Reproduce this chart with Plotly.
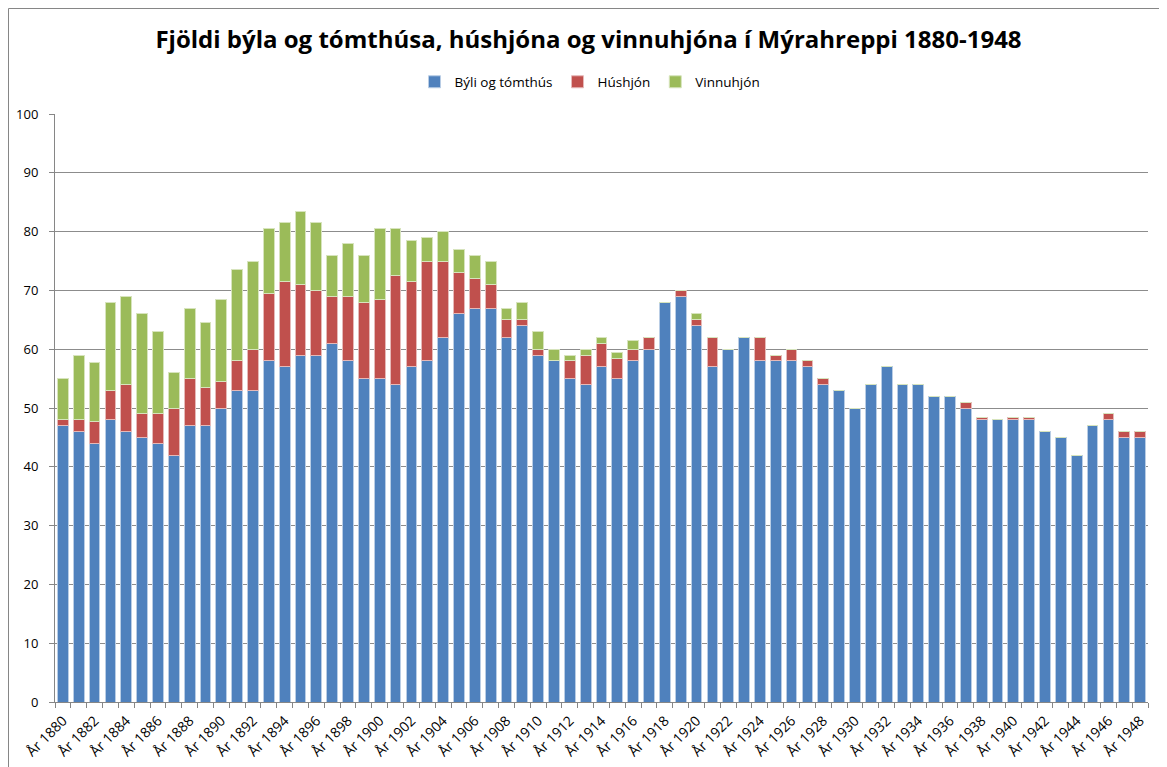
import plotly.graph_objects as go

years = list(range(1880, 1949))

byli = [47, 46, 44, 48, 46, 45, 44, 42, 47, 47,
        50, 53, 53, 58, 57, 59, 59, 61, 58, 55,
        55, 54, 57, 58, 62, 66, 67, 67, 62, 64,
        59, 58, 55, 54, 57, 55, 58, 60, 68, 69,
        64, 57, 60, 62, 58, 58, 58, 57, 54, 53,
        50, 54, 57, 54, 54, 52, 52, 50, 48, 48,
        48, 48, 46, 45, 42, 47, 48, 45, 45]

hushjon = [1, 2, 3.7, 5, 8, 4, 5, 8, 8, 6.5,
           4.5, 5, 7, 11.5, 14.5, 12, 11, 8, 11, 13,
           13.5, 18.5, 14.5, 17, 13, 7, 5, 4, 3, 1,
           1, 0, 3, 5, 4, 3.5, 2, 2, 0, 1,
           1, 5, 0, 0, 4, 1, 2, 1, 1, 0,
           0, 0, 0, 0, 0, 0, 0, 1, 0.4, 0,
           0.4, 0.4, 0, 0, 0, 0, 1, 1, 1]

vinnuhjon = [7, 11, 10, 15, 15, 17, 14, 6, 12, 11,
             14, 15.5, 15, 11, 10, 12.5, 11.5, 7, 9, 8,
             12, 8, 7, 4, 5, 4, 4, 4, 2, 3,
             3, 2, 1, 1, 1, 1, 1.5, 0, 0, 0,
             1, 0, 0, 0, 0, 0, 0, 0, 0, 0,
             0, 0, 0, 0, 0, 0, 0, 0, 0, 0,
             0, 0, 0, 0, 0, 0, 0, 0, 0]

label_years = years[::2]
label_text = [f"År {y}" for y in label_years]

series = [
    ("Býli og tómthús", byli, "#4F81BD", "#B9CDE5"),
    ("Húshjón", hushjon, "#C0504D", "#E6B9B8"),
    ("Vinnuhjón", vinnuhjon, "#9BBB59", "#D7E4BD"),
]

# the page adds an 8px body margin, so the figure is 8px smaller than the window
W, H = 1159, 759
L, R, T, B = 47, 19, 106, 65
pw, ph = W - L - R, H - T - B

fig = go.Figure()
for name, vals, color, edge in series:
    fig.add_trace(go.Bar(
        x=years, y=vals, name=name,
        marker=dict(color=color, line=dict(color=edge, width=1)),
    ))

fig.update_layout(
    barmode="stack",
    bargap=0.32,
    width=W, height=H,
    margin=dict(l=L, r=R, t=T, b=B, autoexpand=False),
    paper_bgcolor="white", plot_bgcolor="white",
    font=dict(family="Open Sans, Noto Sans, sans-serif", size=13, color="#000000"),
    title=dict(
        text="<b>Fjöldi býla og tómthúsa, húshjóna og vinnuhjóna í Mýrahreppi 1880-1948</b>",
        x=580.5 / W, xanchor="center", y=1 - 32 / H, yanchor="middle",
        font=dict(size=24, color="#000000"),
    ),
    legend=dict(
        orientation="h", x=(582 - L) / pw, xanchor="center",
        y=(H - B - 74) / ph, yanchor="middle",
        font=dict(size=13.5), traceorder="normal", itemwidth=30,
    ),
    showlegend=True,
)

fig.update_xaxes(
    range=[1879.5, 1948.5],
    tickvals=label_years, ticktext=label_text,
    tickangle=-45, ticks="", automargin=False,
    showline=True, linecolor="#868686", linewidth=1,
    showgrid=False, zeroline=False,
    tickfont=dict(size=14), ticklabelstandoff=4,
    minor=dict(ticks="outside", tick0=1879.5, dtick=1, ticklen=5,
               tickcolor="#868686", showgrid=False),
)
fig.update_yaxes(
    range=[0, 100], dtick=10, automargin=False,
    showgrid=True, gridcolor="#8C8C8C", gridwidth=1,
    showline=True, linecolor="#868686", linewidth=1,
    ticks="outside", ticklen=5, tickcolor="#868686",
    ticklabelstandoff=8,
    zeroline=False, tickfont=dict(size=13),
)

# outer chart border (only its top and left edges fall inside the page)
fig.add_shape(type="rect", xref="paper", yref="paper",
              x0=(0.5 - L) / pw, x1=(W + 20 - L) / pw,
              y0=(H - B - (H + 20)) / ph, y1=(H - B - 0.5) / ph,
              line=dict(color="#868686", width=1), fillcolor="rgba(0,0,0,0)")

fig.write_html("out.html")
